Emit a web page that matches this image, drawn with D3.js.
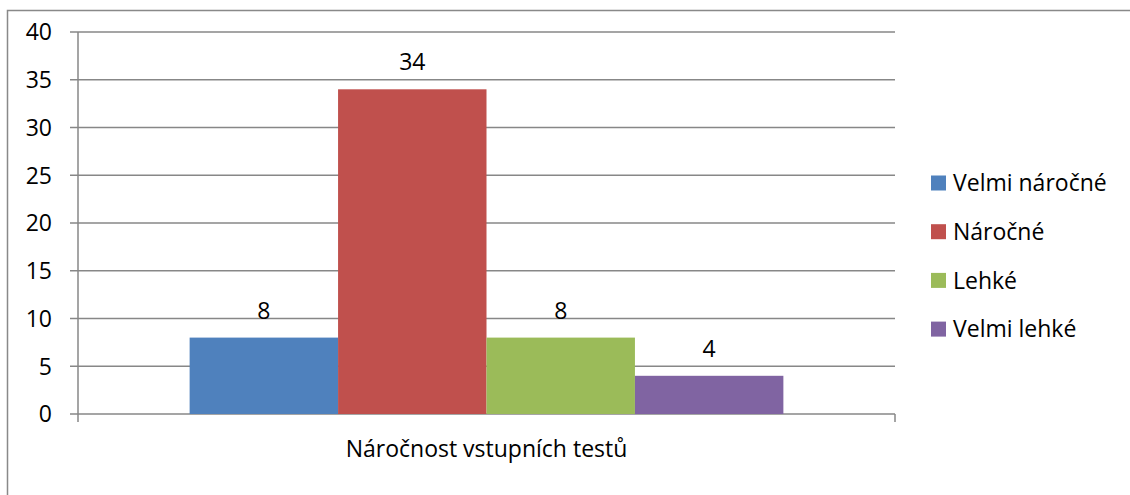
<!DOCTYPE html>
<html>
<head>
<meta charset="utf-8">
<script src="https://cdn.jsdelivr.net/npm/d3@7"></script>
<style>
  body { margin: 0; background: #fff; }
  svg text { font-family: "Open Sans", Lato, sans-serif; fill: #000; font-size: 23px; }
</style>
</head>
<body>
<div id="chart"></div>
<script>
var categories = ["Náročnost vstupních testů"];
var seriesNames = ["Velmi náročné", "Náročné", "Lehké", "Velmi lehké"];
var seriesValues = [8, 34, 8, 4];
var colors = ["#4F81BD", "#C0504D", "#9BBB59", "#8064A2"];
var yTicks = [0, 5, 10, 15, 20, 25, 30, 35, 40];

var W = 1130, H = 495;
var plotLeft = 78, plotRight = 895, plotTop = 32, plotBottom = 414;

var svg = d3.select("#chart").append("svg")
    .attr("width", W)
    .attr("height", H);

// outer frame
svg.append("rect")
    .attr("x", 7.5).attr("y", 10.5)
    .attr("width", W + 20).attr("height", H + 20)
    .attr("fill", "none")
    .attr("stroke", "#898989")
    .attr("stroke-width", 1.5);

var y = d3.scaleLinear().domain([0, 40]).range([plotBottom, plotTop]);
var x0 = d3.scaleBand().domain(categories).range([plotLeft, plotRight])
    .paddingInner(0).paddingOuter(0.188);
var x1 = d3.scaleBand().domain(seriesNames).range([0, x0.bandwidth()]);

// gridlines + y axis ticks
svg.selectAll("line.grid")
    .data(yTicks)
    .enter()
    .append("line")
    .attr("class", "grid")
    .attr("x1", plotLeft - 8)
    .attr("x2", plotRight)
    .attr("y1", function(d){ return y(d); })
    .attr("y2", function(d){ return y(d); })
    .attr("stroke", "#878787")
    .attr("stroke-width", 1.5);

svg.selectAll("text.ytick")
    .data(yTicks)
    .enter()
    .append("text")
    .attr("class", "ytick")
    .attr("x", 52)
    .attr("y", function(d){ return y(d); })
    .attr("dy", "0.36em")
    .attr("text-anchor", "end")
    .text(function(d){ return d; });

// y axis line
svg.append("line")
    .attr("x1", plotLeft).attr("x2", plotLeft)
    .attr("y1", plotTop).attr("y2", plotBottom + 8)
    .attr("stroke", "#878787").attr("stroke-width", 1.5);

// x axis end tick
svg.append("line")
    .attr("x1", plotRight).attr("x2", plotRight)
    .attr("y1", plotBottom).attr("y2", plotBottom + 8)
    .attr("stroke", "#878787").attr("stroke-width", 1.5);

// bars
var g = svg.append("g")
    .attr("transform", "translate(" + x0(categories[0]) + ",0)");

g.selectAll("rect")
    .data(seriesValues)
    .enter()
    .append("rect")
    .attr("x", function(d, i){ return x1(seriesNames[i]); })
    .attr("y", function(d){ return y(d); })
    .attr("width", x1.bandwidth())
    .attr("height", function(d){ return y(0) - y(d); })
    .attr("fill", function(d, i){ return colors[i]; });

g.selectAll("text")
    .data(seriesValues)
    .enter()
    .append("text")
    .attr("x", function(d, i){ return x1(seriesNames[i]) + x1.bandwidth() / 2; })
    .attr("y", function(d){ return y(d) - 19; })
    .attr("text-anchor", "middle")
    .text(function(d){ return d; });

// category label
svg.append("text")
    .attr("x", x0(categories[0]) + x0.bandwidth() / 2)
    .attr("y", 457)
    .attr("text-anchor", "middle")
    .text(categories[0]);

// legend
var legend = svg.selectAll("g.legend")
    .data(seriesNames)
    .enter()
    .append("g")
    .attr("class", "legend")
    .attr("transform", function(d, i){ return "translate(931," + (183 + i * 48.7) + ")"; });

legend.append("rect")
    .attr("x", 0).attr("y", -7.5)
    .attr("width", 15).attr("height", 15)
    .attr("fill", function(d, i){ return colors[i]; });

legend.append("text")
    .attr("x", 22)
    .attr("y", 0)
    .attr("dy", "0.36em")
    .text(function(d){ return d; });
</script>
</body>
</html>
